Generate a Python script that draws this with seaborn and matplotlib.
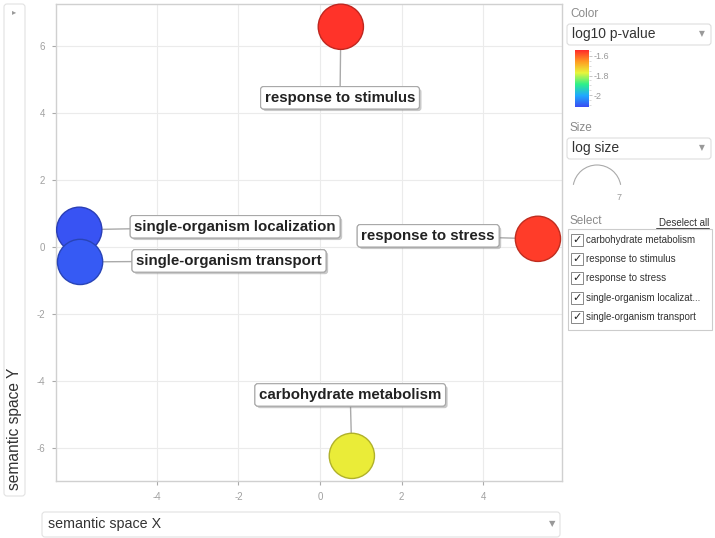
import pandas as pd
import matplotlib
matplotlib.use('Agg')
import matplotlib.pyplot as plt
import matplotlib.patheffects as pe
from matplotlib.cm import ScalarMappable
from matplotlib.colors import LinearSegmentedColormap, Normalize
from matplotlib.patches import FancyBboxPatch, Arc, Rectangle
import seaborn as sns

# GO terms (REVIGO semantic space)
terms = ['response to stimulus', 'response to stress', 'single-organism localization',
         'single-organism transport', 'carbohydrate metabolism']
sem_x = [0.51, 5.34, -5.90, -5.88, 0.78]
sem_y = [6.57, 0.24, 0.51, -0.45, -6.24]
log10_p = [-1.55, -1.56, -2.11, -2.10, -1.76]

select_items = ['carbohydrate metabolism', 'response to stimulus', 'response to stress',
                'single-organism localizat...', 'single-organism transport']
cbar_ticks = [-1.6, -1.8, -2]
cbar_labels = ['-1.6', '-1.8', '-2']
x_ticks = [-4, -2, 0, 2, 4]
y_ticks = [-6, -4, -2, 0, 2, 4, 6]

# where the label boxes sit relative to their bubble (data units)
label_dx = [-0.02, -2.69, 3.82, 3.65, -0.04]
label_dy = [-2.12, 0.09, 0.09, 0.03, 1.82]

df = pd.DataFrame({'term': terms, 'x': sem_x, 'y': sem_y, 'log10 p-value': log10_p})

sns.set_style('white')
plt.rcParams['font.family'] = ['Liberation Sans', 'DejaVu Sans']
plt.rcParams['axes.unicode_minus'] = False

cmap = LinearSegmentedColormap.from_list(
    'revigo', ['#3a4cf2', '#1fa8ff', '#2ef08a', '#e8f53a', '#ff9a22', '#ff2a2a'])
norm = Normalize(vmin=-2.12, vmax=-1.54)

W, H = 715, 538
fig = plt.figure(figsize=(W / 100, H / 100), dpi=100)

# overlay in pixel coordinates for the widget-like panels
ov = fig.add_axes([0, 0, 1, 1])
ov.set_xlim(0, W)
ov.set_ylim(H, 0)
ov.axis('off')

ax = fig.add_axes([56 / W, 1 - 481 / H, 506 / W, 477 / H])
sns.scatterplot(data=df, x='x', y='y', hue='log10 p-value', palette=cmap, hue_norm=norm,
                s=1060, linewidth=1.0, legend=False, ax=ax, zorder=4)
coll = ax.collections[0]
coll.set_clip_on(False)
fc = coll.get_facecolors()
coll.set_edgecolors([(r * 0.75, g * 0.75, b * 0.75, 1) for r, g, b, a in fc])

ax.set_xlim(-6.47, 5.93)
ax.set_ylim(-6.99, 7.25)
ax.set_xticks(x_ticks)
ax.set_yticks(y_ticks)
ax.grid(True, color='#ebebeb', linewidth=0.8)
ax.set_axisbelow(True)
for sp in ax.spines.values():
    sp.set_color('#d0d0d0')
    sp.set_linewidth(1.0)
ax.tick_params(colors='#aaaaaa', labelsize=7, length=3, width=0.8, pad=5,
               left=True, bottom=True, labelcolor='#a0a0a0')
ax.set_xlabel('')
ax.set_ylabel('')

# labels with connector lines
for i, t in enumerate(terms):
    lx, ly = sem_x[i] + label_dx[i], sem_y[i] + label_dy[i]
    ax.plot([sem_x[i], lx], [sem_y[i], ly], color='#aaaaaa', lw=1.0, zorder=2)
    txt = ax.text(lx, ly, t, ha='center', va='center', fontsize=10.8, fontweight='bold',
                  color='#222222', zorder=5,
                  bbox=dict(boxstyle='round,pad=0.28,rounding_size=0.2', fc='white',
                            ec='#a8a8a8', lw=0.8))
    txt.get_bbox_patch().set_path_effects(
        [pe.withSimplePatchShadow(offset=(1.5, -1.5), shadow_rgbFace='#888888', alpha=0.45),
         pe.Normal()])


def box(x0, y0, x1, y1, ec='#dddddd', r=3):
    ov.add_patch(FancyBboxPatch((x0, y0), x1 - x0, y1 - y0,
                                boxstyle=f'round,pad=0,rounding_size={r}',
                                fc='white', ec=ec, lw=0.8))


grey = '#8a8a8a'
dark = '#333333'

# y-axis selector
box(4, 4, 25, 496, ec='#e2e2e2')
ov.text(14, 12, '\u25b8', ha='center', va='center', fontsize=6, color='#999999',
        family='DejaVu Sans')
ov.text(15, 429, 'semantic space Y', rotation=90, ha='center', va='center',
        fontsize=11.2, color=dark)

# x-axis selector
box(42, 512, 560, 537, ec='#e2e2e2')
ov.text(48, 524, 'semantic space X', ha='left', va='center', fontsize=10.3, color=dark)
ov.text(552, 524, '\u25bc', ha='center', va='center', fontsize=6, color='#999999',
        family='DejaVu Sans')

# colour selector
ov.text(570, 14, 'Color', ha='left', va='center', fontsize=8.5, color=grey)
box(567, 24, 711, 45)
ov.text(572, 34, 'log10 p-value', ha='left', va='center', fontsize=10, color=dark)
ov.text(702, 34, '\u25bc', ha='center', va='center', fontsize=5.5, color='#999999',
        family='DejaVu Sans')

cax = fig.add_axes([575 / W, 1 - 107 / H, 14 / W, 57 / H])
cb = fig.colorbar(ScalarMappable(norm=norm, cmap=cmap), cax=cax, ticks=cbar_ticks)
cb.outline.set_visible(False)
cb.set_ticklabels(cbar_labels)
cax.tick_params(labelsize=6.5, labelcolor='#999999', color='#bbbbbb', length=2, width=0.6, pad=1)
cax.minorticks_on()
cax.tick_params(which='minor', length=1.5, color='#cccccc', width=0.5)

# size selector
ov.text(570, 128, 'Size', ha='left', va='center', fontsize=8.5, color=grey)
box(567, 138, 711, 159)
ov.text(572, 148, 'log size', ha='left', va='center', fontsize=10, color=dark)
ov.text(702, 148, '\u25bc', ha='center', va='center', fontsize=5.5, color='#999999',
        family='DejaVu Sans')
ov.add_patch(Arc((597, 189), 48, 48, theta1=190, theta2=350, color='#aaaaaa', lw=0.8))
ov.text(619, 197, '7', ha='center', va='center', fontsize=6.5, color='#999999')

# selection list
ov.text(570, 221, 'Select', ha='left', va='center', fontsize=8.5, color=grey)
ov.text(709, 223, 'Deselect all', ha='right', va='center', fontsize=7, color=dark)
ov.plot([656, 709], [228, 228], color=dark, lw=0.6)
ov.add_patch(Rectangle((568, 229), 144, 101, fc='white', ec='#cccccc', lw=0.8))
for k, item in enumerate(select_items):
    yy = 240 + k * 19.2
    ov.add_patch(Rectangle((571, yy - 6), 12, 12, fc='white', ec='#888888', lw=0.7))
    ov.text(577, yy, '\u2713', ha='center', va='center', fontsize=8, color='#222222',
            family='DejaVu Sans')
    ov.text(586, yy, item, ha='left', va='center', fontsize=7, color=dark)

fig.savefig('out.png', dpi=100)
